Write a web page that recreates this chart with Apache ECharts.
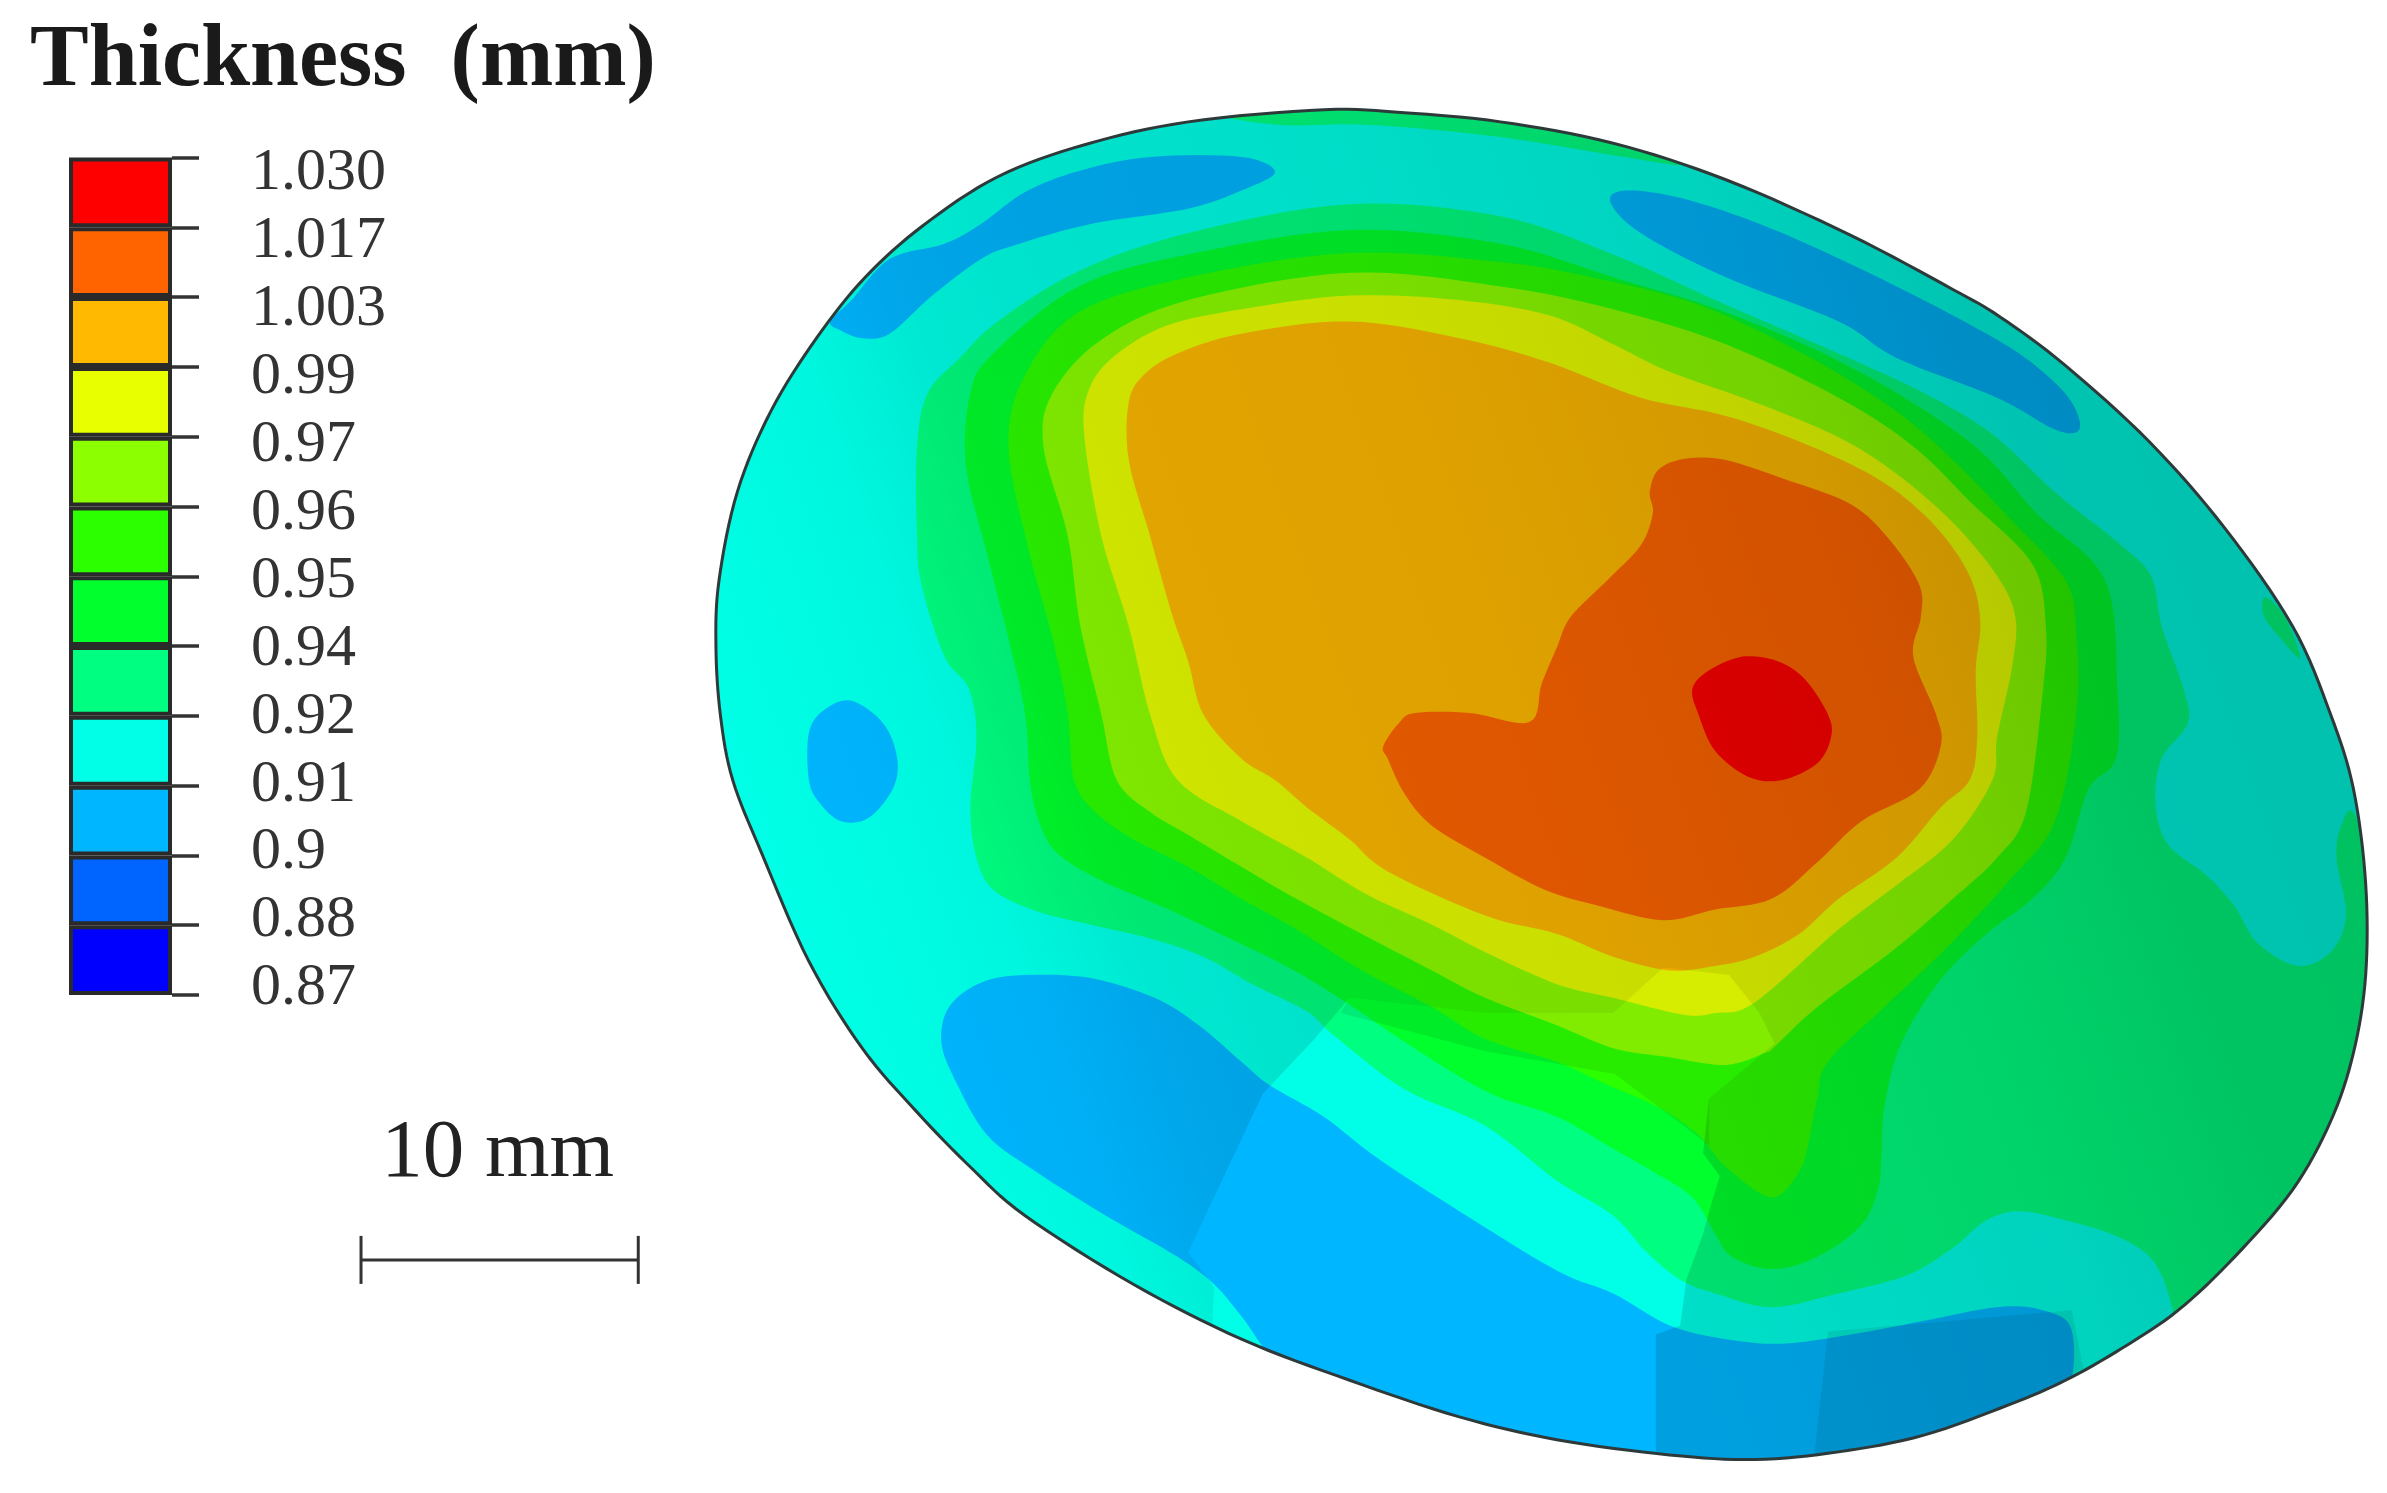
<!DOCTYPE html>
<html>
<head>
<meta charset="utf-8">
<title>Thickness (mm)</title>
<script src="https://cdn.jsdelivr.net/npm/echarts@6/dist/echarts.min.js"></script>
<style>
  html, body { margin: 0; padding: 0; background: #fff; }
  #chart { width: 2387px; height: 1493px; }
</style>
</head>
<body>
<div id="chart"></div>
<script>
// colour scale, top to bottom
const tickLabels = ['1.030', '1.017', '1.003', '0.99', '0.97', '0.96', '0.95', '0.94', '0.92', '0.91', '0.9', '0.88', '0.87'];
const bandColors = ['#ff0000', '#ff6400', '#ffb900', '#e8ff00', '#8cff00', '#2cff00', '#00ff2c', '#00ff80', '#00ffe6', '#00b6ff', '#0064ff', '#0000ff'];
const bandNames = bandColors.map((c, i) => tickLabels[i + 1] + '-' + tickLabels[i]);

// contour outlines, in plate units
const discOutline = [[869,72],[922,74],[985,80],[1059,94],[1133,118],[1214,154],[1282,190],[1313,208],[1356,240],[1411,290],[1460,346],[1505,411],[1530,469],[1545,518],[1553,580],[1553,640],[1545,691],[1530,736],[1505,781],[1467,825],[1430,860],[1393,885],[1356,906],[1319,922],[1263,942],[1207,953],[1152,958],[1096,955],[1022,945],[958,930],[886,906],[815,879],[744,843],[673,798],[637,766],[602,730],[566,688],[531,631],[500,560],[481,512],[473,470],[470,425],[472,381],[484,323],[506,270],[536,222],[568,182],[606,148],[655,116],[712,95],[780,80]];
const blueTopLeft = [[545,211],[559,197],[584,170],[620,160],[644,147],[673,126],[709,112],[755,103],[815,103],[837,113],[815,125],[780,137],[716,147],[666,161],[644,170],[612,194],[584,219],[566,222],[552,217]];
const blueTopRight = [[1057,132],[1070,125],[1111,132],[1170,153],[1245,188],[1311,223],[1341,244],[1360,264],[1365,282],[1349,282],[1311,261],[1245,235],[1207,211],[1133,182],[1077,153]];
const blueLeft = [[531,481],[541,466],[559,460],[580,475],[589,498],[586,518],[570,537],[552,539],[538,527],[531,512]];
const blueLower = [[618,684],[623,661],[644,645],[673,640],[716,642],[758,655],[787,673],[815,697],[833,712],[869,733],[904,760],[958,795],[1022,834],[1059,849],[1096,870],[1133,879],[1170,882],[1215,876],[1263,867],[1311,858],[1341,860],[1360,873],[1356,915],[1319,930],[1263,950],[1207,965],[1152,970],[1096,965],[1022,955],[958,940],[886,915],[840,895],[815,864],[797,843],[773,825],[726,798],[680,769],[648,745],[627,709]];
const band092 = [[1430,870],[1475,830],[1515,785],[1540,740],[1555,691],[1563,646],[1563,601],[1546,535],[1536,545],[1534,565],[1540,601],[1530,625],[1508,634],[1482,619],[1467,595],[1449,575],[1423,554],[1415,527],[1419,498],[1436,475],[1434,454],[1419,411],[1412,378],[1389,355],[1349,323],[1308,285],[1263,258],[1207,232],[1133,200],[1059,167],[985,142],[886,134],[780,153],[708,178],[655,211],[630,235],[609,258],[602,293],[602,352],[605,384],[620,431],[636,452],[641,484],[637,530],[641,563],[652,584],[680,598],[716,607],[755,616],[790,628],[822,646],[858,664],[876,680],[922,715],[975,739],[1022,775],[1059,798],[1081,822],[1103,840],[1126,849],[1163,858],[1207,849],[1252,837],[1282,819],[1304,801],[1326,795],[1356,801],[1386,810],[1408,822],[1419,837],[1426,858]];
const sliverTop = [[800,74],[869,66],[922,68],[985,74],[1059,88],[1105,108],[1060,102],[985,90],[900,82],[840,82]];
const sliverRight = [[1487,392],[1486,404],[1497,419],[1510,432],[1500,405]];
const band094 = [[886,151],[780,167],[708,188],[652,232],[637,258],[634,305],[648,364],[662,419],[673,469],[676,512],[682,539],[694,560],[723,578],[765,596],[801,613],[844,634],[879,655],[933,691],[979,718],[1022,733],[1059,754],[1085,769],[1111,786],[1126,810],[1137,825],[1163,833],[1193,825],[1222,804],[1233,780],[1235,760],[1237,727],[1248,685],[1274,643],[1304,613],[1334,590],[1356,563],[1371,518],[1389,498],[1390,454],[1382,381],[1337,337],[1293,290],[1215,241],[1133,205],[1059,182],[985,160]];
const band095 = [[886,166],[780,182],[708,205],[673,246],[662,293],[676,364],[691,419],[701,469],[705,512],[719,533],[744,551],[780,569],[815,590],[851,610],[894,637],[940,661],[975,682],[1022,697],[1055,712],[1089,727],[1115,745],[1133,766],[1163,786],[1181,769],[1187,751],[1193,721],[1200,697],[1237,661],[1278,622],[1319,578],[1349,539],[1363,469],[1363,416],[1356,381],[1319,340],[1282,302],[1245,270],[1189,235],[1115,200],[1040,181],[985,172]];
const band097 = [[886,179],[780,197],[723,223],[691,258],[685,293],[701,352],[709,410],[723,469],[733,512],[755,533],[780,548],[815,569],[851,590],[894,613],[940,637],[975,655],[1022,673],[1059,688],[1096,694],[1133,699],[1159,691],[1165,687],[1193,661],[1245,622],[1282,590],[1311,563],[1330,533],[1341,454],[1343,411],[1334,370],[1293,329],[1256,293],[1207,261],[1133,226],[1059,203],[985,188]];
const band099 = [[886,194],[958,197],[1017,207],[1059,226],[1096,244],[1152,264],[1207,287],[1245,311],[1282,343],[1311,378],[1323,405],[1321,437],[1311,484],[1308,512],[1282,551],[1245,581],[1207,610],[1152,658],[1126,665],[1105,666],[1059,655],[1022,646],[975,625],[940,607],[897,587],[858,563],[815,539],[773,512],[755,469],[741,411],[723,352],[712,288],[714,258],[730,235],[765,214],[815,203]];
const band1003 = [[886,211],[958,222],[1017,238],[1077,261],[1133,273],[1189,293],[1237,317],[1271,346],[1293,378],[1300,408],[1297,440],[1298,484],[1293,512],[1274,530],[1245,563],[1207,590],[1181,613],[1152,628],[1126,634],[1096,637],[1059,628],[1022,613],[975,601],[911,572],[886,551],[858,530],[837,512],[815,498],[790,469],[780,434],[769,402],[755,352],[741,302],[741,264],[751,246],[773,232],[815,219]];
const band1017 = [[1089,308],[1107,301],[1133,302],[1170,314],[1215,331],[1241,355],[1260,384],[1261,405],[1256,431],[1271,469],[1274,490],[1260,518],[1222,539],[1193,566],[1163,590],[1126,597],[1092,604],[1051,595],[1014,584],[975,563],[940,542],[922,521],[911,498],[908,490],[918,475],[929,468],[965,468],[1004,474],[1012,449],[1022,425],[1031,405],[1055,381],[1077,358],[1085,337],[1083,323]];
const band1030 = [[1111,452],[1122,440],[1144,431],[1167,434],[1185,446],[1200,469],[1202,484],[1193,501],[1170,512],[1148,510],[1126,493],[1115,469]];

// lighting on the part, everything but the lit belt at the lower middle
const shadeMain = [[400,0],[1600,0],[1600,1000],[1087,1000],[1087,876],[1103,870],[1107,840],[1118,810],[1122,795],[1129,772],[1118,757],[1122,721],[1165,685],[1155,665],[1135,640],[1092,635],[1059,665],[975,665],[886,655],[862,683],[829,718],[780,822],[797,845],[790,1000],[400,1000]];
const shadeBelt = [[886,655],[975,665],[1059,665],[1092,635],[1135,640],[1155,665],[1165,685],[1122,721],[1122,752],[1100,735],[1060,705],[975,690],[880,665]];
const shadeBottom = [[1200,874],[1360,860],[1372,920],[1263,965],[1190,965]];

const scaleBarX = [237, 419];
const scaleBarY = 827;

// [outline, index into bandColors]
const layers = [
  [discOutline, 8], [blueLower, 9], [blueTopLeft, 9], [blueTopRight, 9], [blueLeft, 9],
  [band092, 7], [sliverTop, 7], [sliverRight, 7], [band094, 6], [band095, 5],
  [band097, 4], [band099, 3], [band1003, 2], [band1017, 1], [band1030, 0]
];
const shades = [shadeMain, shadeBelt, shadeBottom];

// closed catmull-rom through the read points, screen space
const curve = (api, points) => {
  const p = points.map(q => api.coord(q));
  const n = p.length;
  const out = [];
  for (let i = 0; i < n; i++) {
    const a = p[(i + n - 1) % n], b = p[i], c = p[(i + 1) % n], d = p[(i + 2) % n];
    for (let k = 0; k < 8; k++) {
      const t = k / 8, t2 = t * t, t3 = t2 * t;
      out.push([0, 1].map(j => 0.5 * (2 * b[j] + (c[j] - a[j]) * t +
        (2 * a[j] - 5 * b[j] + 4 * c[j] - d[j]) * t2 + (3 * b[j] - a[j] - 3 * c[j] + d[j]) * t3)));
    }
  }
  return out;
};

const chart = echarts.init(document.getElementById('chart'));

const renderPart = (params, api) => {
  const i = api.value(0);
  const rim = curve(api, discOutline);
  const clip = { type: 'polygon', shape: { points: rim } };
  if (i < layers.length) {
    const [outline, band] = layers[i];
    return {
      type: 'polygon', z2: i, clipPath: clip,
      shape: { points: curve(api, outline) },
      style: { fill: bandColors[band] }
    };
  }
  const s = i - layers.length;
  if (s < shades.length) {
    const a = api.coord([480, 500]);
    const b = api.coord([1389, 182]);
    const light = s === 0
      ? new echarts.graphic.LinearGradient(a[0], a[1], b[0], b[1], [
          { offset: 0, color: 'rgba(0,0,0,0)' }, { offset: 0.14, color: 'rgba(0,0,0,0.035)' },
          { offset: 0.22, color: 'rgba(0,0,0,0.09)' }, { offset: 0.31, color: 'rgba(0,0,0,0.115)' },
          { offset: 0.51, color: 'rgba(0,0,0,0.13)' }, { offset: 0.76, color: 'rgba(0,0,0,0.175)' },
          { offset: 0.9, color: 'rgba(0,0,0,0.23)' }, { offset: 1, color: 'rgba(0,0,0,0.24)' }
        ], true)
      : 'rgba(0,0,0,0.075)';
    return {
      type: 'polygon', z2: i, clipPath: clip,
      shape: { points: shades[s].map(p => api.coord(p)) },
      style: { fill: light }
    };
  }
  // rim of the part
  return {
    type: 'polygon', z2: i,
    shape: { points: rim },
    style: { fill: 'none', stroke: '#2e3a3a', lineWidth: 3 }
  };
};

const renderScaleBar = (params, api) => {
  const a = api.coord([scaleBarX[0], scaleBarY]);
  const b = api.coord([scaleBarX[1], scaleBarY]);
  const line = { stroke: '#333', lineWidth: 3 };
  return {
    type: 'group',
    children: [
      { type: 'line', shape: { x1: a[0], y1: a[1], x2: b[0], y2: b[1] }, style: line },
      { type: 'line', shape: { x1: a[0], y1: a[1] - 24, x2: a[0], y2: a[1] + 24 }, style: line },
      { type: 'line', shape: { x1: b[0], y1: b[1] - 24, x2: b[0], y2: b[1] + 24 }, style: line },
      {
        type: 'text',
        style: {
          text: '10 mm', x: (a[0] + b[0]) / 2 - 2, y: a[1] - 106, align: 'center', verticalAlign: 'middle',
          font: '83px "Liberation Serif"', fill: '#222'
        }
      }
    ]
  };
};

chart.setOption({
  animation: false,
  backgroundColor: '#fff',
  title: {
    text: 'Thickness  (mm)',
    left: 25, top: 13,
    textStyle: { fontFamily: 'Liberation Serif', fontWeight: 'bold', fontSize: 88, color: '#1a1a1a' }
  },
  grid: [
    { left: 0, top: 0, width: 2387, height: 1493 },
    { left: 69, top: 157.5, width: 103, height: 837.5 },
    { left: 251, top: 173.5, width: 1, height: 815 }
  ],
  xAxis: [
    { gridIndex: 0, type: 'value', min: 0, max: 1567, show: false },
    { gridIndex: 1, type: 'value', min: 0, max: 1, show: false },
    { gridIndex: 2, type: 'value', min: 0, max: 1, show: false }
  ],
  yAxis: [
    { gridIndex: 0, type: 'value', min: 0, max: 980, inverse: true, show: false },
    {
      gridIndex: 1, type: 'category', inverse: true, position: 'right', data: bandNames,
      axisLine: { show: false, onZero: false },
      axisTick: { show: true, length: 27, lineStyle: { color: '#333', width: 3.5 } },
      axisLabel: { show: false },
      splitLine: { show: false }
    },
    {
      gridIndex: 2, type: 'category', inverse: true, boundaryGap: false, data: tickLabels,
      axisLine: { show: false, onZero: false },
      axisTick: { show: false },
      axisLabel: {
        show: true, interval: 0, align: 'left', margin: 0,
        fontFamily: 'Liberation Serif', fontSize: 60, color: '#333'
      }
    }
  ],
  series: [
    {
      type: 'custom', xAxisIndex: 0, yAxisIndex: 0, silent: true, clip: false,
      renderItem: renderPart,
      encode: { x: 0, y: 0 },
      data: Array.from({ length: layers.length + shades.length + 1 }, (_, i) => [i])
    },
    {
      type: 'custom', xAxisIndex: 0, yAxisIndex: 0, silent: true, clip: false,
      renderItem: renderScaleBar,
      encode: { x: 0, y: 0 },
      data: [[0]]
    },
    {
      type: 'bar', xAxisIndex: 1, yAxisIndex: 1, silent: true, barCategoryGap: 0,
      data: bandColors.map(c => ({
        value: 1,
        itemStyle: { color: c, borderColor: '#2a2a2a', borderWidth: 4 }
      }))
    }
  ]
});
</script>
</body>
</html>
